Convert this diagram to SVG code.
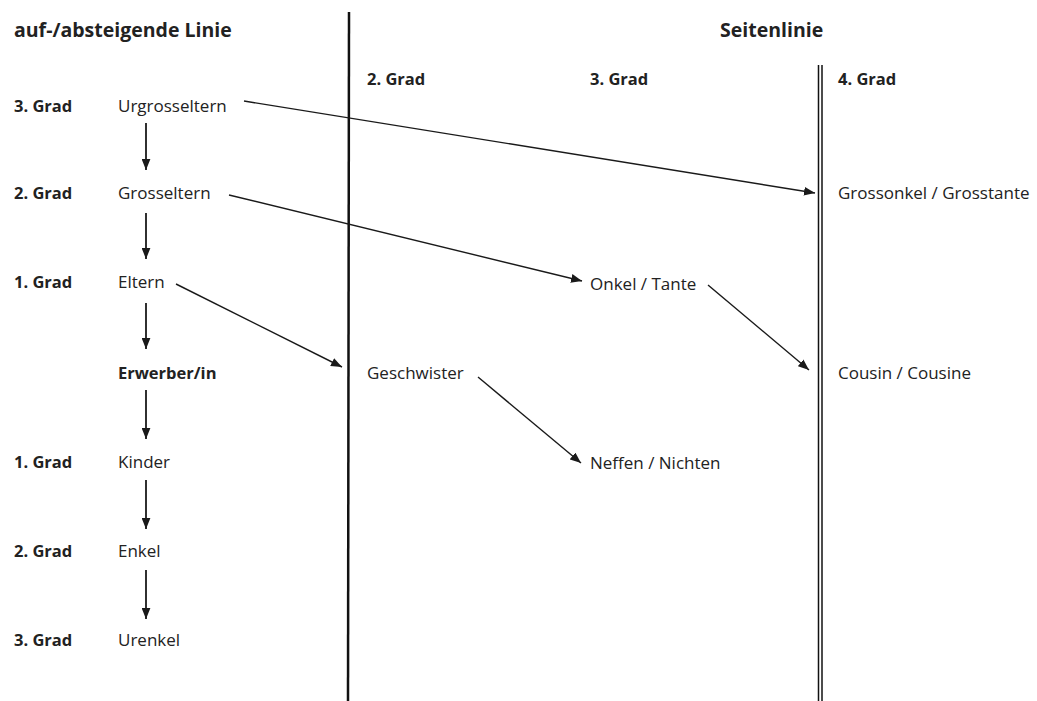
<svg xmlns="http://www.w3.org/2000/svg" width="1037" height="701" viewBox="0 0 1037 701">
<defs>
<marker id="ah" viewBox="0 0 10 8" refX="10" refY="4" markerWidth="11" markerHeight="9" markerUnits="userSpaceOnUse" orient="auto">
<path d="M0,0 L10,4 L0,8 z" fill="#1a1a1a"/>
</marker>
</defs>
<style>
text{font-family:"Open Sans","Liberation Sans",sans-serif;fill:#222;font-size:17px}
.b{font-weight:bold;font-size:16.5px}
.t{font-size:19.5px;font-weight:bold}
.c{stroke:#1a1a1a;stroke-width:1.4;fill:none;marker-end:url(#ah)}
.d{stroke-width:1.8}
.v{stroke:#111;fill:none}
</style>
<rect width="1037" height="701" fill="#fff"/>
<g id="dividers">
<line class="v" x1="349" y1="12" x2="348" y2="701" stroke-width="2.5"/>
<line class="v" x1="818.5" y1="65" x2="818.5" y2="701" stroke-width="1.5"/>
<line class="v" x1="822" y1="65" x2="822" y2="701" stroke-width="1.5"/>
</g>
<g id="headers">
<text class="t" x="14" y="37">auf-/absteigende Linie</text>
<text class="t" x="720" y="37">Seitenlinie</text>
<text class="b" x="367" y="85">2. Grad</text>
<text class="b" x="590" y="85">3. Grad</text>
<text class="b" x="838" y="85">4. Grad</text>
<text class="b" x="14" y="112">3. Grad</text>
<text class="b" x="14" y="199">2. Grad</text>
<text class="b" x="14" y="288">1. Grad</text>
<text class="b" x="14" y="468">1. Grad</text>
<text class="b" x="14" y="557">2. Grad</text>
<text class="b" x="14" y="646">3. Grad</text>
</g>
<g id="urgrosseltern"><text x="118" y="112">Urgrosseltern</text></g>
<g id="grosseltern"><text x="118" y="199">Grosseltern</text></g>
<g id="eltern"><text x="118" y="288">Eltern</text></g>
<g id="erwerber"><text class="b" x="118" y="379">Erwerber/in</text></g>
<g id="kinder"><text x="118" y="468">Kinder</text></g>
<g id="enkel"><text x="118" y="557">Enkel</text></g>
<g id="urenkel"><text x="118" y="646">Urenkel</text></g>
<g id="geschwister"><text x="367" y="379">Geschwister</text></g>
<g id="onkel"><text x="590" y="290">Onkel / Tante</text></g>
<g id="neffen"><text x="590" y="469">Neffen / Nichten</text></g>
<g id="grossonkel"><text x="838" y="199">Grossonkel / Grosstante</text></g>
<g id="cousin"><text x="838" y="379">Cousin / Cousine</text></g>
<g id="connectors">
<line class="c d" x1="146" y1="123" x2="146" y2="170"/>
<line class="c d" x1="146" y1="213" x2="146" y2="259"/>
<line class="c d" x1="146" y1="303" x2="146" y2="349"/>
<line class="c d" x1="146" y1="390" x2="146" y2="439"/>
<line class="c d" x1="146" y1="480" x2="146" y2="529"/>
<line class="c d" x1="146" y1="570" x2="146" y2="619"/>
<line class="c" x1="244" y1="101" x2="815" y2="193"/>
<line class="c" x1="229" y1="195" x2="582" y2="281"/>
<line class="c" x1="176" y1="284" x2="342" y2="367"/>
<line class="c" x1="708" y1="285" x2="809" y2="370"/>
<line class="c" x1="478" y1="377" x2="581" y2="463"/>
</g>
</svg>
